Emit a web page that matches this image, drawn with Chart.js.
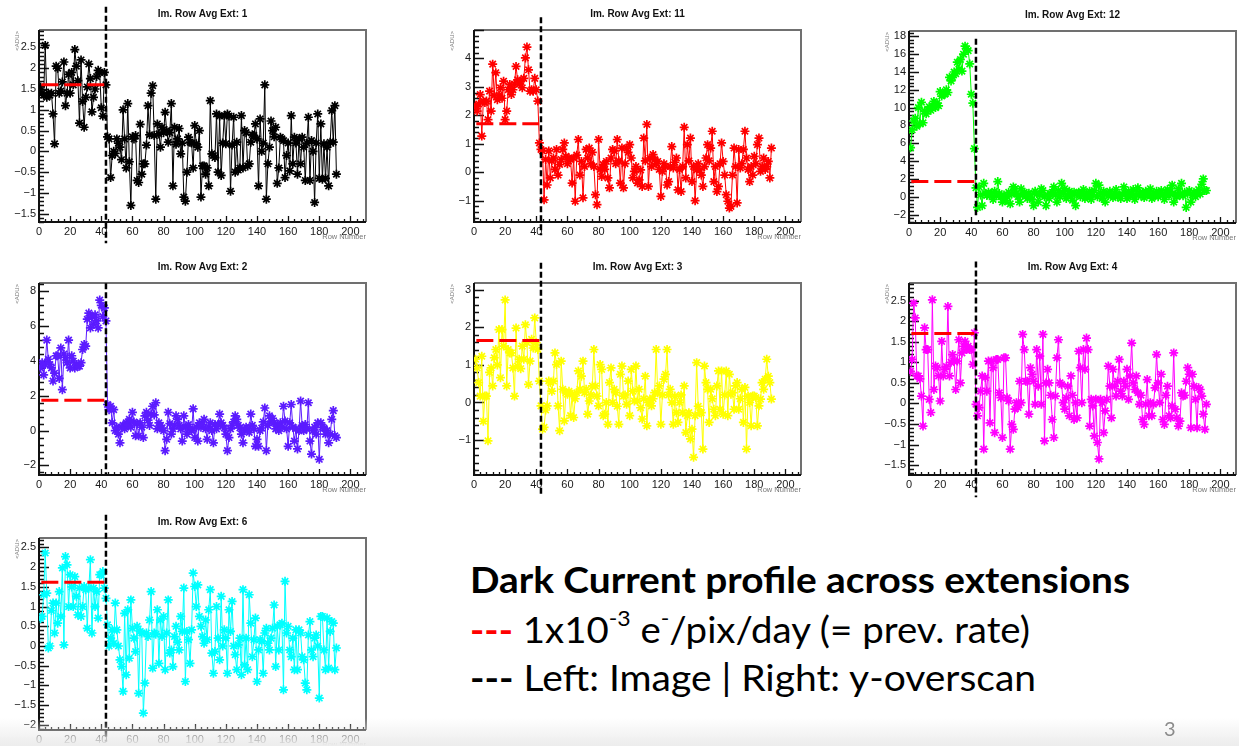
<!DOCTYPE html>
<html lang="en">
<head>
<meta charset="UTF-8">
<script src="https://cdn.jsdelivr.net/npm/chart.js"></script>
<style>
  body { margin: 0; background: #fff; }
  .slide { position: relative; width: 1239px; height: 746px; overflow: hidden; background: #fff; }
  .slide canvas { position: absolute; }
  .cap { position: absolute; left: 470px; white-space: nowrap; font-family: Lato, sans-serif; font-size: 36px; line-height: 1; color: #000; transform-origin: 0 0; }
  .cap.head { font-weight: bold; }
  .cap .dash { font-weight: bold; }
  .cap .red { color: #ff0000; }
  .cap sup { font-size: 60%; position: relative; top: -0.8em; vertical-align: baseline; line-height: 0; }
  .pageno { position: absolute; left: 1164px; top: 716px; font: 20px Lato, sans-serif; color: #8c8c8c; }
  .shade { position: absolute; left: 0; right: 0; bottom: 0; height: 28px; background: linear-gradient(rgba(236,236,236,0), #ececec); }
</style>
</head>
<body>
<div class="slide">
  <canvas id="ext1"></canvas>
  <canvas id="ext11"></canvas>
  <canvas id="ext12"></canvas>
  <canvas id="ext2"></canvas>
  <canvas id="ext3"></canvas>
  <canvas id="ext4"></canvas>
  <canvas id="ext6"></canvas>

  <div class="cap head" data-w="660" style="top:561px">Dark Current profile across extensions</div>
  <div class="cap" data-w="560" style="top:611px"><span class="dash red">---</span> 1x10<sup>-3</sup> e<sup>-</sup>/pix/day (= prev. rate)</div>
  <div class="cap" data-w="566" style="top:659px"><span class="dash">---</span> Left: Image | Right: y-overscan</div>
  <div class="shade"></div>
  <div class="pageno">3</div>
</div>

<script>
  // mean ADU per row, rows 1..191 (image rows up to 43, y-overscan after)
  const ext1Adu = [
    1.55, 1.4, 1.35, 2.55, 1.3, 1.4, 1.35, 1.4, 0.9, 0.18,
    2.05, 2.0, 1.4, 1.45, 1.67, 2.15, 1.1, 1.4, 1.85, 1.4,
    1.9, 1.6, 2.45, 2.05, 1.7, 0.68, 2.2, 1.2, 0.58, 1.3,
    1.55, 2.1, 1.75, 0.95, 1.3, 1.5, 1.8, 1.95, 1.9, 1.05,
    0.85, 1.9, 1.6, 0.35, 0.3, -0.63, -0.1, 0.0, -0.05, 0.3,
    0.2, 0.1, -0.2, 1.0, 0.3, -0.4, 1.15, -0.25, -1.3, 0.35,
    0.3, 0.38, -0.7, -0.75, 0.65, -0.55, -0.3, -0.3, 0.15, 1.1,
    0.4, 1.4, 1.58, 0.38, -1.15, 0.66, 0.42, 0.1, 0.58, 0.45,
    0.94, 0.5, 0.22, 0.45, 1.15, -0.83, 0.58, 0.17, 0.3, 0.55,
    -0.06, 0.2, -1.1, -1.2, -0.5, 0.34, 0.22, 0.2, -0.4, 0.62,
    0.18, 0.1, 0.5, -1.1, -0.35, -0.35, -0.55, -0.4, -0.83, 1.22,
    -0.06, -0.1, -0.15, 0.9, -0.5, 0.85, -0.58, 0.2, 0.86, 0.18,
    0.9, 0.85, -0.96, 0.15, 0.82, -0.5, 0.22, -0.45, -0.4, 0.86,
    -0.4, 0.5, 0.45, -0.35, -0.3, 0.22, 0.4, 0.38, 0.66, 0.3,
    -0.83, 0.78, 0.0, 0.2, 1.6, -1.15, -0.3, 0.1, 0.73, 0.5,
    0.35, 0.58, -0.77, -0.4, 0.34, 0.3, 0.26, -0.63, -0.1, 0.2,
    -0.47, 0.86, -0.3, 0.34, 0.2, -0.55, 0.3, -0.3, 0.34, 0.1,
    -0.7, 0.2, 0.82, -0.7, 0.26, 0.0, -1.23, 0.2, 0.9, -0.65,
    0.66, -0.67, 0.18, -0.65, 0.1, -0.83, 0.22, 0.98, 0.22, 1.1,
    -0.55
  ];
  const ext11Adu = [
    2.32, 2.15, 2.4, 2.73, 1.27, 2.5, 2.45, 2.5, 1.85, 2.85,
    2.15, 3.8, 2.7, 3.5, 2.55, 2.7, 2.97, 2.6, 3.2, 1.85,
    2.15, 2.9, 3.08, 2.73, 2.9, 3.1, 3.72, 3.25, 3.1, 3.2,
    2.97, 3.3, 4.02, 4.4, 3.6, 2.85, 2.9, 2.85, 3.3, 2.9,
    2.5, 1.03, 0.8, 0.75, -0.97, 0.45, -0.45, 0.75, -0.2, 0.4,
    0.5, 0.1, 0.8, -0.1, 0.27, 0.45, 0.8, 1.03, 0.56, 0.3,
    0.5, 0.45, -0.38, 0.5, -1.02, 0.6, 1.15, -0.1, 0.38, -0.9,
    0.2, 0.8, 0.5, 0.85, 0.3, 0.7, 0.2, -0.79, -1.14, 1.15,
    0.1, -0.15, 0.27, 0.1, 0.38, -0.2, -0.55, 0.5, 0.8, 0.75,
    0.3, 1.15, 0.4, -0.38, 0.85, -0.55, 0.3, 0.85, 0.7, 0.97,
    0.5, -0.2, 0.03, 0.2, -0.38, -0.27, 0.08, -0.5, 1.2, 0.4,
    1.68, -0.5, 0.5, 0.2, 0.62, 0.45, 0.3, 0.38, 0.1, -0.85,
    0.03, 0.3, 0.2, -0.45, -0.33, 0.2, 0.9, 0.15, 0.35, 0.5,
    -0.62, 0.1, -0.68, 0.2, 1.58, -0.2, 0.97, 0.4, 1.2, -0.33,
    0.2, -1.0, 0.08, 0.3, 0.08, -0.1, -0.5, 0.2, 0.5, 0.97,
    0.4, 0.85, 1.44, -0.33, 0.2, -0.68, -0.5, 0.3, 1.03, 0.38,
    -0.1, -0.79, -1.02, -1.26, -1.2, -0.1, 0.85, 0.2, -1.08, 0.8,
    0.15, 0.3, 0.8, 1.44, 0.5, 0.1, -0.33, 0.2, -0.1, 0.56,
    0.3, 0.97, 1.2, 0.03, 0.2, 0.5, 0.1, 0.2, 0.38, -0.2,
    0.85
  ];
  const ext12Adu = [
    5.5, 7.5, 8.5, 8.8, 7.9, 10.0, 8.2, 10.6, 8.3, 9.6,
    9.3, 9.8, 10.1, 9.7, 10.2, 10.7, 10.0, 10.5, 10.2, 11.8,
    11.3, 11.5, 11.5, 12.0, 11.7, 13.4, 13.0, 13.4, 14.0, 13.8,
    15.1, 14.3, 15.4, 14.1, 16.0, 16.9, 16.6, 16.4, 14.9, 11.5,
    10.5, 5.4, 1.0, -1.2, 1.1, 0.2, -1.0, 1.5, 0.35, 0.15,
    0.5, 0.15, 0.4, -0.3, 0.6, 0.1, 1.7, 0.35, 0.0, -0.6,
    0.2, -0.4, 0.0, 0.5, -0.8, 0.3, 1.1, 0.9, 0.35, 0.0,
    -0.6, 0.9, 0.2, 0.5, 0.1, -0.2, 0.4, 0.2, -0.3, -1.0,
    0.6, 0.35, -0.6, 0.2, 0.9, 0.7, 0.0, -1.0, 0.2, -0.2,
    0.35, 0.5, 1.1, 0.2, -0.6, 0.7, 0.0, 1.5, 0.4, 0.9,
    -0.2, 0.2, 0.6, 0.1, -0.4, 0.5, -1.0, 0.3, 0.5, 0.0,
    0.35, 0.8, -0.2, 0.3, 0.1, 0.6, -0.3, 0.2, 0.7, 1.5,
    0.0, 1.3, 0.4, -0.2, 0.6, -0.6, 0.3, 0.1, 0.6, 0.2,
    -0.1, 0.4, 0.8, 0.0, 0.2, -0.2, 0.3, 1.1, 0.4, -0.2,
    0.6, 0.1, 0.3, 0.8, -0.3, 0.2, 1.0, 0.4, 0.1, 0.5,
    -0.1, 0.6, 0.2, 0.3, 0.9, -0.2, 0.4, 0.1, 0.6, 0.0,
    0.3, 0.7, 0.2, -0.3, 0.5, 0.8, 0.1, 0.6, 1.3, -0.6,
    0.3, 0.0, 0.9, 0.2, 1.5, 0.1, 0.5, -1.2, 0.4, 0.7,
    -0.6, 0.2, 0.5, 0.0, 0.4, 0.8, 0.3, 1.4, 2.0, 0.7,
    0.7
  ];
  const ext2Adu = [
    3.6, 3.9, 3.2, 3.8, 5.2, 4.1, 3.8, 3.6, 2.85, 3.3,
    4.3, 4.3, 3.0, 4.75, 2.35, 4.4, 4.2, 3.9, 5.2, 3.6,
    4.3, 4.0, 3.6, 3.8, 3.7, 3.7, 3.9, 4.66, 4.95, 4.85,
    6.4, 6.75, 5.9, 6.55, 6.1, 6.65, 6.3, 5.9, 7.5, 7.2,
    6.55, 7.05, 6.3, 1.5, 1.2, 1.4, 0.45, 1.2, 0.0, 0.2,
    -0.2, -0.7, 0.2, 0.3, 0.1, 0.45, 0.3, 0.65, 0.2, 1.05,
    0.5, -0.3, 0.4, -0.3, 0.45, 0.2, -0.4, 0.85, 1.05, 0.6,
    0.3, 0.95, 1.4, 0.9, 1.6, 0.1, 0.45, 0.3, 0.15, 0.0,
    -1.15, -0.5, 1.05, 0.4, -0.2, 0.1, 0.3, 0.85, 0.65, 0.3,
    0.1, -0.6, 0.85, 0.2, -0.2, 0.35, 0.1, 0.0, 1.25, -0.4,
    0.2, -0.6, 0.45, 0.2, 0.35, 0.65, 0.1, -0.5, 0.2, 0.45,
    0.0, -0.7, 0.35, 0.1, 0.35, 0.95, 0.45, 0.3, 0.15, -0.2,
    -1.15, -0.4, 0.1, 0.3, 0.5, 0.85, 0.65, 0.3, 0.15, -0.2,
    -0.7, 0.0, 0.2, 0.1, -0.1, 0.95, 0.3, 0.1, -0.9, -0.5,
    -0.9, 0.0, 0.15, 0.5, 1.3, -1.15, 0.3, 0.85, 0.55, 0.7,
    0.45, 0.1, 0.3, 0.0, 0.45, 0.2, 1.4, 0.55, 0.1, -0.9,
    0.45, 1.5, 0.2, -0.6, 0.1, -1.05, 0.0, 1.7, 0.3, 0.0,
    0.35, 0.1, 1.6, -0.6, -1.35, 0.0, 0.2, -0.2, 0.45, -1.65,
    0.45, 0.2, 0.15, -0.2, 0.0, -0.7, -0.2, 0.65, 1.15, -0.3,
    -0.4
  ];
  const ext3Adu = [
    1.15, 0.92, 0.53, 0.17, 1.23, -0.5, 0.17, 0.17, -1.02, 0.8,
    0.92, 0.44, 1.19, 1.41, 1.0, 1.94, 0.66, 1.94, 1.5, 2.73,
    0.44, 1.41, 1.32, 1.32, 0.92, 0.17, 1.98, 0.97, 1.15, 0.9,
    1.5, 1.15, 2.07, 1.59, 0.48, 1.1, 1.68, 1.45, 2.25, 1.59,
    1.41, 0.57, -0.09, -0.71, -0.66, -0.2, -0.09, 0.57, 0.53, 0.3,
    0.57, 1.32, 1.01, -0.09, -0.75, 1.1, 0.35, -0.49, 0.26, 0.22,
    0.3, -0.35, 0.22, -0.4, 0.1, 0.26, 0.84, 0.35, 0.7, 1.1,
    0.26, 0.35, -0.31, 0.04, 0.2, 0.44, 1.41, 0.44, 0.17, -0.09,
    1.01, 0.88, -0.35, -0.31, 0.0, -0.58, 0.53, 0.92, 0.0, 0.35,
    0.26, -0.1, -0.58, 0.75, 0.97, 0.17, 0.2, -0.05, 0.57, -0.35,
    0.88, 0.3, 0.04, 0.97, 0.04, 0.35, -0.14, -0.44, 0.1, 0.7,
    -0.62, 0.0, 0.09, -0.09, 0.1, 0.26, 1.41, 0.26, 0.44, -0.58,
    0.2, 0.62, 0.75, 1.41, 0.2, 0.35, 0.0, -0.58, 0.17, -0.27,
    -0.53, 0.0, 0.2, -0.27, 0.44, -0.8, -0.35, -0.27, -0.97, -0.71,
    -1.46, -0.35, 1.06, -0.1, -0.27, -0.27, -1.24, 0.97, 0.53, 0.35,
    -0.53, 0.35, 0.1, -0.18, -0.35, 0.44, 0.84, -0.18, 0.84, -0.31,
    0.2, 0.84, -0.35, 0.75, 0.22, 0.26, -0.18, 0.44, 0.53, -0.18,
    0.1, 0.35, -0.53, 0.4, -1.24, 0.17, 0.0, -0.62, 0.17, 0.17,
    0.13, -0.62, -0.09, 0.09, 0.53, 0.35, 0.62, 1.15, 0.7, 0.53,
    0.09
  ];
  const ext4Adu = [
    0.78, 1.07, 2.44, 2.08, 0.67, 0.67, 0.6, 0.18, -0.55, 1.84,
    1.31, 1.31, 0.1, -0.22, 2.52, 0.34, 0.91, 0.87, 0.67, 0.06,
    1.51, 0.67, 0.83, 0.9, 2.36, 0.67, 1.0, 1.19, 1.03, 0.34,
    1.03, 1.55, 0.5, 1.23, 1.39, 1.51, 1.31, 1.39, 1.31, 1.31,
    0.95, 1.72, -0.02, -0.3, -0.1, 0.3, 0.67, -1.11, 0.63, 0.3,
    1.03, -0.47, 1.03, 0.87, -0.71, 1.07, 1.07, 0.26, 0.14, -0.83,
    1.11, 1.11, 0.14, 0.06, -1.11, -0.51, -0.63, -0.14, 0.02, -0.1,
    0.54, 0.02, 1.68, 1.31, 0.54, 0.54, -0.26, 0.87, 0.71, 0.54,
    -0.02, 1.31, 0.42, 1.15, -0.02, 1.68, -0.91, 0.5, 0.83, 0.5,
    0.2, -0.39, -0.83, 0.18, 1.11, 1.55, 0.5, 0.46, 0.02, -0.14,
    0.14, 0.42, -0.3, 0.67, 0.2, -0.39, 0.02, -0.35, 1.27, 0.87,
    0.02, 1.31, 0.83, 1.59, 1.31, -0.55, 0.1, -0.06, -0.79, 0.1,
    -0.95, -1.35, 0.1, 0.02, -0.71, -0.18, 0.1, 0.91, 0.42, -0.35,
    0.83, 0.42, 0.18, 0.54, 1.07, 0.3, 0.18, 0.54, 0.42, 0.83,
    0.1, 0.67, 1.47, 0.5, 0.34, 0.67, 0.26, -0.02, 0.2, -0.39,
    -0.51, -0.02, 0.58, -0.3, 0.02, -0.3, -0.02, 0.38, 1.19, 0.5,
    0.02, 0.71, -0.39, -0.51, 0.2, 0.42, -0.3, -0.35, -0.06, 1.23,
    -0.14, -0.35, -0.55, -0.43, 0.26, 0.18, 0.2, 0.54, 0.87, 0.71,
    -0.59, 0.71, 0.42, 0.1, -0.59, 0.38, 0.34, 0.18, -0.26, -0.63,
    -0.02
  ];
  const ext6Adu = [
    0.7, 0.75, 1.3, 2.36, 1.34, -0.05, 0.0, 0.9, 1.09, 0.33,
    1.09, 0.58, 1.38, 0.75, 1.98, 0.03, 2.27, 2.06, 1.0, 1.81,
    1.5, 1.0, 1.76, 1.26, 0.79, 1.47, 0.75, 1.0, 1.51, 1.43,
    0.45, 1.47, 2.19, 0.33, 1.47, 1.0, 1.38, 0.71, 1.81, 1.81,
    1.89, 1.47, 1.21, 0.54, 0.0, 0.2, 0.41, 0.07, 1.09, 0.41,
    0.0, -0.35, -0.52, -1.15, 0.83, -0.73, 0.92, -0.31, 1.17, 0.45,
    0.2, -0.14, 0.5, -1.2, 0.37, 0.33, -1.7, -0.94, 0.33, 0.24,
    0.66, 1.38, -0.56, 0.33, 0.3, 0.92, -0.44, 0.66, 0.24, 0.75,
    -0.6, 0.33, 1.17, -0.18, -0.1, -0.52, 0.24, 0.5, 0.1, -0.1,
    0.75, 0.37, 1.47, -0.9, 0.37, 0.16, -0.44, 0.41, 1.85, 1.51,
    1.0, 1.55, 0.75, 0.5, 0.24, 0.07, 0.66, 0.16, 0.92, 1.43,
    -0.18, -0.69, -0.14, 1.0, 0.2, -0.35, 1.26, 0.0, 0.41, 0.2,
    -0.69, 0.92, 0.37, 1.13, 0.0, -0.22, -0.6, 0.03, 0.2, -0.73,
    1.43, -0.48, 0.2, -0.6, 1.3, 0.58, -0.27, 0.16, 0.71, -0.9,
    -0.1, 0.16, 0.12, -0.69, 0.33, 0.45, 0.07, -0.1, 0.2, 0.45,
    1.04, -0.52, 0.5, -0.1, 0.54, 0.58, -1.11, 1.64, 0.33, 0.5,
    -0.1, -0.27, 0.2, -0.6, 0.41, -0.6, 0.41, 0.33, -0.27, -0.35,
    -0.94, -1.11, 0.28, 0.62, -0.1, -0.27, 0.2, 0.28, 0.0, -1.32,
    0.75, 0.75, -0.1, -0.6, 0.71, -0.56, 0.37, 0.62, 0.58, -0.6,
    -0.05
  ];

  const rowNumbers = ext1Adu.map((_, i) => i + 1);
  const xTicks = [0, 20, 40, 60, 80, 100, 120, 140, 160, 180, 200];

  // y tick labels per extension
  const ext1Ticks = [-1.5, -1, -0.5, 0, 0.5, 1, 1.5, 2, 2.5];
  const ext11Ticks = [-1, 0, 1, 2, 3, 4];
  const ext12Ticks = [-2, 0, 2, 4, 6, 8, 10, 12, 14, 16, 18];
  const ext2Ticks = [-2, 0, 2, 4, 6, 8];
  const ext3Ticks = [-1, 0, 1, 2, 3];
  const ext4Ticks = [-1.5, -1, -0.5, 0, 0.5, 1, 1.5, 2, 2.5];
  const ext6Ticks = [-2, -1.5, -1, -0.5, 0, 0.5, 1, 1.5, 2, 2.5];

  // expected level from the previous rate (red), and last image row (black)
  const prevRateLevel = { ext1: 1.6, ext11: 1.7, ext12: 1.7, ext2: 1.75, ext3: 1.65, ext4: 1.7, ext6: 1.62 };
  const prevRateRows = [1.5, 42];
  const lastImageRow = 43;

  const FRAME_W = 327, FRAME_H = 192;
  const PAD_L = 45, PAD_T = 30, PAD_R = 8, PAD_B = 30, XAXIS_H = 18;

  const panels = [
    { id: 'ext1', title: 'Im. Row Avg Ext: 1', values: ext1Adu, ticks: ext1Ticks, color: '#000000', left: 39, top: 30, yMin: -1.7, yMax: 2.92, cut: [3.48, -2.21] },
    { id: 'ext11', title: 'Im. Row Avg Ext: 11', values: ext11Adu, ticks: ext11Ticks, color: '#ff0000', left: 474, top: 30, yMin: -1.75, yMax: 5.0, cut: [5.45, -2.22] },
    { id: 'ext12', title: 'Im. Row Avg Ext: 12', values: ext12Adu, ticks: ext12Ticks, color: '#00ff00', left: 909, top: 31, yMin: -2.95, yMax: 18.6, cut: [17.74, -2.08] },
    { id: 'ext2', title: 'Im. Row Avg Ext: 2', values: ext2Adu, ticks: ext2Ticks, color: '#5b1bff', left: 39, top: 283, yMin: -2.55, yMax: 8.48, cut: [8.47, -2.49] },
    { id: 'ext3', title: 'Im. Row Avg Ext: 3', values: ext3Adu, ticks: ext3Ticks, color: '#ffff00', left: 474, top: 283, yMin: -1.93, yMax: 3.18, cut: [3.72, -2.51] },
    { id: 'ext4', title: 'Im. Row Avg Ext: 4', values: ext4Adu, ticks: ext4Ticks, color: '#ff00ff', left: 909, top: 283, yMin: -1.74, yMax: 2.93, cut: [3.45, -2.28] },
    { id: 'ext6', title: 'Im. Row Avg Ext: 6', values: ext6Adu, ticks: ext6Ticks, color: '#00ffff', left: 39, top: 538, yMin: -2.13, yMax: 2.74, cut: [3.33, -2.43] }
  ];

  const labelFont = { family: '"Liberation Sans", Arial, sans-serif', size: 11 };
  const minusSign = v => String(v).replace('-', '\u2212');

  // ROOT-like frame: grey top/right edges, black axes, ticks pointing inwards
  const rootFrame = {
    id: 'rootFrame',
    beforeDatasetsDraw(chart, args, o) {
      const { ctx, chartArea: a, scales: { x, y } } = chart;
      ctx.save();
      ctx.lineWidth = 2;
      ctx.strokeStyle = '#707070';
      ctx.beginPath();
      ctx.moveTo(a.left, a.top); ctx.lineTo(a.right, a.top); ctx.lineTo(a.right, a.bottom);
      ctx.stroke();
      ctx.strokeStyle = '#111';
      ctx.beginPath();
      ctx.moveTo(a.left, a.top); ctx.lineTo(a.left, a.bottom); ctx.lineTo(a.right, a.bottom);
      ctx.stroke();

      ctx.lineWidth = 1.3;
      ctx.beginPath();
      const minor = o.yMajor / 5;
      for (let k = Math.ceil(y.min / minor); k * minor <= y.max; k++) {
        const py = Math.round(y.getPixelForValue(k * minor)) + 0.5;
        const len = k % 5 === 0 ? 10 : 5;
        ctx.moveTo(a.left, py); ctx.lineTo(a.left + len, py);
      }
      for (let k = 0; k * 4 <= x.max; k++) {
        const px = Math.round(x.getPixelForValue(k * 4)) + 0.5;
        const len = k % 5 === 0 ? 6 : 3;
        ctx.moveTo(px, a.bottom); ctx.lineTo(px, a.bottom - len);
      }
      ctx.stroke();
      ctx.restore();
    },
    afterDraw(chart, args, o) {
      const { ctx, chartArea: a } = chart;
      ctx.save();
      ctx.fillStyle = '#111';
      ctx.font = 'bold 10px "Liberation Sans", Arial, sans-serif';
      ctx.textAlign = 'center';
      ctx.textBaseline = 'middle';
      ctx.fillText(o.title, (a.left + a.right) / 2, a.top - 16);

      ctx.fillStyle = '#777';
      ctx.font = '7.5px "Liberation Sans", Arial, sans-serif';
      ctx.textAlign = 'right';
      ctx.textBaseline = 'top';
      ctx.fillText('Row Number', a.right, a.bottom + 11);

      ctx.font = '6px "Liberation Sans", Arial, sans-serif';
      ctx.translate(a.left - 22, a.top + 1);
      ctx.rotate(-Math.PI / 2);
      ctx.textBaseline = 'middle';
      ctx.fillText('<ADU>', 0, 0);
      ctx.restore();
    }
  };

  panels.forEach(p => {
    const cv = document.getElementById(p.id);
    cv.width = FRAME_W + PAD_L + PAD_R;
    cv.height = FRAME_H + PAD_T + PAD_B;
    cv.style.left = (p.left - PAD_L) + 'px';
    cv.style.top = (p.top - PAD_T) + 'px';
    const level = prevRateLevel[p.id];

    new Chart(cv, {
      type: 'line',
      data: {
        datasets: [
          {
            data: p.cut.map(v => ({ x: lastImageRow, y: v })),
            borderColor: '#000', borderWidth: 2.5, borderDash: [6, 3],
            pointRadius: 0, clip: false
          },
          {
            data: prevRateRows.map(r => ({ x: r, y: level })),
            borderColor: '#ff0000', borderWidth: 3, borderDash: [17, 6],
            pointRadius: 0
          },
          {
            data: p.values.map((v, i) => ({ x: rowNumbers[i], y: v })),
            borderColor: p.color, borderWidth: 1,
            pointStyle: 'star', pointRadius: 4.5, pointBorderWidth: 1.7,
            pointBorderColor: p.color, pointBackgroundColor: p.color
          }
        ]
      },
      options: {
        responsive: false,
        animation: false,
        events: [],
        layout: { padding: { left: 0, top: PAD_T, right: PAD_R, bottom: PAD_B - XAXIS_H } },
        plugins: {
          legend: { display: false },
          tooltip: { enabled: false },
          rootFrame: { title: p.title, yMajor: p.ticks[1] - p.ticks[0] }
        },
        scales: {
          x: {
            type: 'linear', min: 0, max: 210,
            afterFit: s => { s.height = XAXIS_H; },
            afterBuildTicks: s => { s.ticks = xTicks.map(v => ({ value: v })); },
            grid: { display: false, drawTicks: false },
            border: { display: false },
            ticks: { padding: 3, font: labelFont, color: '#1a1a1a', maxRotation: 0, autoSkip: false }
          },
          y: {
            type: 'linear', min: p.yMin, max: p.yMax,
            afterFit: s => { s.width = PAD_L; },
            afterBuildTicks: s => { s.ticks = p.ticks.map(v => ({ value: v })); },
            grid: { display: false, drawTicks: false },
            border: { display: false },
            ticks: { padding: 3, font: labelFont, color: '#1a1a1a', autoSkip: false, callback: minusSign }
          }
        }
      },
      plugins: [rootFrame]
    });
  });

  // squeeze the caption lines to the slide's text widths
  document.querySelectorAll('.cap').forEach(el => {
    const w = el.getBoundingClientRect().width;
    el.style.transform = 'scaleX(' + (el.dataset.w / w) + ')';
  });
</script>
</body>
</html>
